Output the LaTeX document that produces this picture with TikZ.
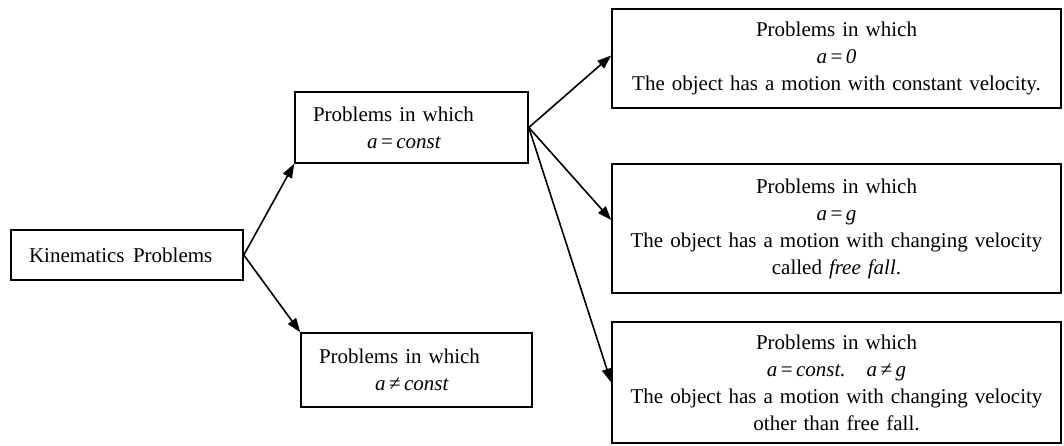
\documentclass[tikz,border=0pt]{standalone}
\usepackage{fontspec}
\setmainfont{Liberation Serif}
\usetikzlibrary{arrows.meta}
\begin{document}
\begin{tikzpicture}[x=1pt,y=-1pt,
  every node/.style={font=\fontsize{21}{27}\selectfont},
  box/.style={draw,line width=1.6pt,rectangle,inner ysep=0pt},
  lbox/.style={box,align=left,inner xsep=18pt},
  cbox/.style={box,align=center,inner xsep=0pt},
  conn/.style={line width=1.6pt,-{Triangle[length=14pt,width=10pt]}}]
\useasboundingbox (0,0) rectangle (1064,445);
\node[lbox,text width=196pt,minimum height=50pt] (K) at (127,255) {Kinematics\hspace{0.4em}Problems};
\node[lbox,text width=197pt,minimum height=71pt] (A) at (411.5,127.5) {Problems in which\\\hspace*{54pt}\textit{a}\,=\,\textit{const}};
\node[lbox,text width=195pt,minimum height=74pt] (B) at (416.5,370) {Problems in which\\\hspace*{56pt}\textit{a}\,≠\,\textit{const}};
\node[cbox,text width=449pt,minimum height=99pt] (R1) at (836.5,58.5) {Problems in which\\\textit{a}\,=\,\textit{0}\\The object has a motion with constant velocity.};
\node[cbox,text width=449pt,minimum height=129pt] (R2) at (836.5,228.5) {Problems in which\\\textit{a}\,=\,\textit{g}\\The object has a motion with changing velocity\\called \textit{free fall}.};
\node[cbox,text width=449pt,minimum height=121pt] (R3) at (836.5,382.5) {Problems in which\\\textit{a}\,=\,\textit{const.}\quad \textit{a}\,≠\,\textit{g}\\The object has a motion with changing velocity\\other than free fall.};
\draw[conn] (K.east) -- (A.south west);
\draw[conn] (K.east) -- (B.north west);
\draw[conn] (A.east) -- ([yshift=3pt]R1.west);
\draw[conn] (A.east) -- ([yshift=8.5pt]R2.west);
\draw[conn] (A.east) -- (R3.west);
\end{tikzpicture}
\end{document}
